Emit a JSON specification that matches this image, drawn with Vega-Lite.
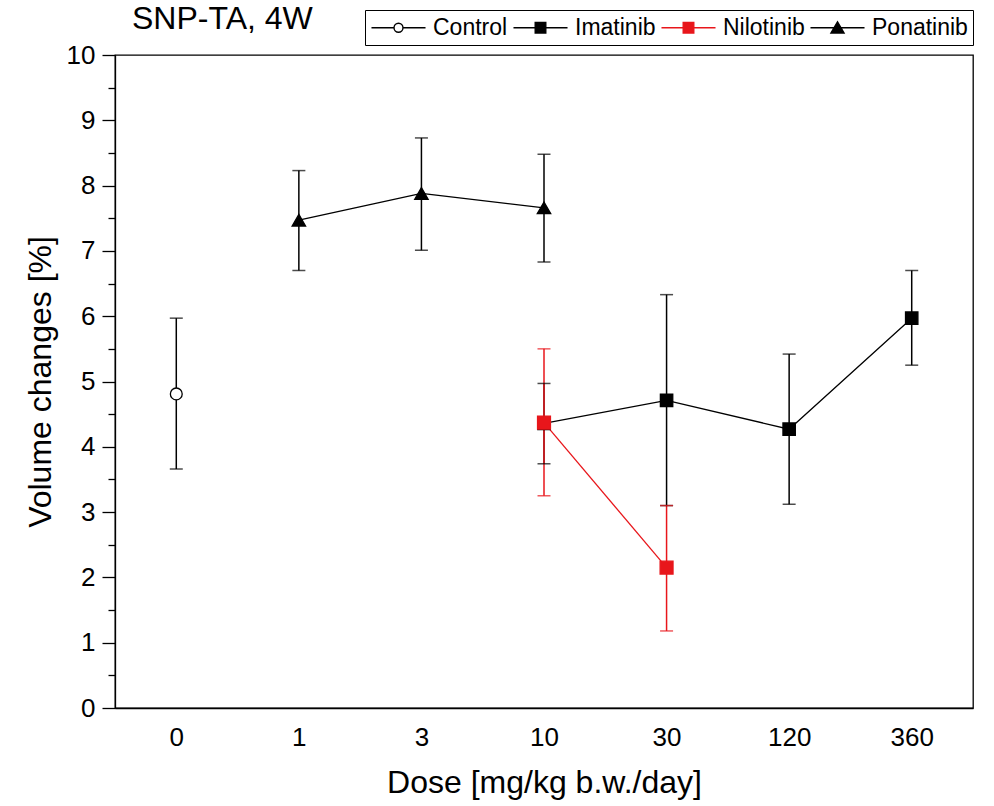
{
  "$schema": "https://vega.github.io/schema/vega-lite/v6.json",
  "width": 858,
  "height": 653,
  "autosize": {"type": "none"},
  "padding": {"left": 115, "top": 55, "right": 21, "bottom": 98},
  "background": "white",
  "config": {
    "font": "Liberation Sans, Arial, sans-serif",
    "view": {"stroke": "#000", "strokeWidth": 1.3},
    "axis": {"domainColor": "#000", "tickColor": "#000", "labelColor": "#000", "titleColor": "#000", "titleFontWeight": "normal", "domainWidth": 1.3, "tickWidth": 1.3, "grid": false},
    "axisX": {"title": "Dose [mg/kg b.w./day]", "labelAngle": 0, "ticks": false, "tickSize": 0, "labelFontSize": 26, "labelPadding": 16, "titleFontSize": 32, "titlePadding": 17},
    "legend": {"symbolOpacity": 1}
  },
  "title": {"text": "SNP-TA, 4W", "anchor": "start", "frame": "group", "dx": 17, "fontSize": 32, "fontWeight": "normal", "offset": -51, "baseline": "alphabetic", "color": "#000"},
  "data": {
    "values": [
      {"series": "Ponatinib", "dose": "1", "d": 1, "value": 7.47, "lo": 6.70, "hi": 8.23},
      {"series": "Ponatinib", "dose": "3", "d": 3, "value": 7.88, "lo": 7.01, "hi": 8.73},
      {"series": "Ponatinib", "dose": "10", "d": 10, "value": 7.66, "lo": 6.83, "hi": 8.48},
      {"series": "Control", "dose": "0", "d": 0, "value": 4.81, "lo": 3.66, "hi": 5.97},
      {"series": "Imatinib", "dose": "10", "d": 10, "value": 4.36, "lo": 3.74, "hi": 4.97},
      {"series": "Imatinib", "dose": "30", "d": 30, "value": 4.71, "lo": 3.10, "hi": 6.33},
      {"series": "Imatinib", "dose": "120", "d": 120, "value": 4.27, "lo": 3.12, "hi": 5.42},
      {"series": "Imatinib", "dose": "360", "d": 360, "value": 5.97, "lo": 5.25, "hi": 6.70},
      {"series": "Nilotinib", "dose": "10", "d": 10, "value": 4.37, "lo": 3.25, "hi": 5.50},
      {"series": "Nilotinib", "dose": "30", "d": 30, "value": 2.15, "lo": 1.18, "hi": 3.10}
    ]
  },
  "layer": [
    {
      "mark": {"type": "rule", "strokeWidth": 1.5},
      "encoding": {
        "x": {"field": "dose", "type": "nominal", "title": "Dose [mg/kg b.w./day]", "scale": {"type": "point", "domain": ["0", "1", "3", "10", "30", "120", "360"], "padding": 0.5}},
        "y": {"field": "lo", "type": "quantitative", "scale": {"domain": [0, 10], "nice": false, "zero": false},
          "axis": {"orient": "left", "title": "Volume changes [%]", "values": [0, 1, 2, 3, 4, 5, 6, 7, 8, 9, 10], "tickSize": 13, "labelFontSize": 26, "labelPadding": 7, "titleFontSize": 32, "titlePadding": 9}},
        "y2": {"field": "hi"},
        "color": {"field": "series", "type": "nominal", "scale": {"domain": ["Control", "Imatinib", "Nilotinib", "Ponatinib"], "range": ["#000000", "#000000", "#e8161b", "#000000"]}, "legend": null}
      }
    },
    {
      "transform": [{"fold": ["lo", "hi"], "as": ["bound", "cap"]}],
      "mark": {"type": "tick", "thickness": 1.5, "size": 13},
      "encoding": {
        "x": {"field": "dose", "type": "nominal", "title": "Dose [mg/kg b.w./day]", "scale": {"type": "point", "domain": ["0", "1", "3", "10", "30", "120", "360"], "padding": 0.5}},
        "y": {"field": "cap", "type": "quantitative", "scale": {"domain": [0, 10], "nice": false, "zero": false}, "axis": null},
        "color": {"field": "series", "type": "nominal", "scale": {"domain": ["Control", "Imatinib", "Nilotinib", "Ponatinib"], "range": ["#000000", "#000000", "#e8161b", "#000000"]}, "legend": null}
      }
    },
    {
      "mark": {"type": "line", "strokeWidth": 1.3},
      "encoding": {
        "x": {"field": "dose", "type": "nominal", "title": "Dose [mg/kg b.w./day]", "scale": {"type": "point", "domain": ["0", "1", "3", "10", "30", "120", "360"], "padding": 0.5}},
        "y": {"field": "value", "type": "quantitative", "scale": {"domain": [0, 10], "nice": false, "zero": false}, "axis": null},
        "order": {"field": "d", "type": "quantitative"},
        "color": {"field": "series", "type": "nominal", "scale": {"domain": ["Control", "Imatinib", "Nilotinib", "Ponatinib"], "range": ["#000000", "#000000", "#d0262b", "#000000"]}, "legend": null}
      }
    },
    {
      "mark": {"type": "point", "strokeWidth": 1.3, "opacity": 1},
      "encoding": {
        "x": {"field": "dose", "type": "nominal", "title": "Dose [mg/kg b.w./day]", "scale": {"type": "point", "domain": ["0", "1", "3", "10", "30", "120", "360"], "padding": 0.5}},
        "y": {"field": "value", "type": "quantitative", "scale": {"domain": [0, 10], "nice": false, "zero": false}, "axis": null},
        "shape": {"field": "series", "type": "nominal", "scale": {"domain": ["Control", "Imatinib", "Nilotinib", "Ponatinib"], "range": ["circle", "square", "square", "triangle-up"]}, "legend": null},
        "size": {"field": "series", "type": "ordinal", "scale": {"domain": ["Control", "Imatinib", "Nilotinib", "Ponatinib"], "range": [140, 180, 170, 240]}, "legend": null},
        "fill": {"field": "series", "type": "nominal", "scale": {"domain": ["Control", "Imatinib", "Nilotinib", "Ponatinib"], "range": ["#ffffff", "#000000", "#e8161b", "#000000"]}, "legend": null},
        "stroke": {"field": "series", "type": "nominal", "scale": {"domain": ["Control", "Imatinib", "Nilotinib", "Ponatinib"], "range": ["#000000", "#000000", "#e8161b", "#000000"]}, "legend": null}
      }
    },
    {
      "mark": {"type": "point", "opacity": 0, "strokeWidth": 1.3},
      "encoding": {
        "x": {"field": "dose", "type": "nominal", "title": "Dose [mg/kg b.w./day]", "scale": {"type": "point", "domain": ["0", "1", "3", "10", "30", "120", "360"], "padding": 0.5}},
        "y": {"field": "value", "type": "quantitative", "scale": {"domain": [0, 10], "nice": false, "zero": false},
          "axis": {"orient": "left", "title": null, "values": [0.5, 1.5, 2.5, 3.5, 4.5, 5.5, 6.5, 7.5, 8.5, 9.5], "labels": false, "domain": false, "tickSize": 7}},
        "shape": {"field": "series", "type": "nominal",
          "scale": {"domain": ["Control", "Imatinib", "Nilotinib", "Ponatinib"],
            "range": ["M-2.35,0H-0.39M0.39,0H2.35M-0.39,0A0.39,0.39 0 1,0 0.39,0A0.39,0.39 0 1,0 -0.39,0Z", "M-2.35,0H2.35M-0.46,-0.46H0.46V0.46H-0.46Z", "M-2.35,0H2.35M-0.46,-0.46H0.46V0.46H-0.46Z", "M-2.35,0H2.35M0,-0.52L0.57,0.46H-0.57Z"]},
          "legend": {"orient": "none", "legendX": 250, "legendY": -45, "direction": "horizontal", "title": null, "labelFontSize": 23, "labelColor": "#000", "symbolSize": 529, "symbolOffset": 16, "labelOffset": 22, "columnPadding": 2, "padding": 5, "strokeColor": "#000", "fillColor": "#fff", "symbolStrokeWidth": 1.4, "symbolOpacity": 1}},
        "fill": {"field": "series", "type": "nominal", "scale": {"domain": ["Control", "Imatinib", "Nilotinib", "Ponatinib"], "range": ["#ffffff", "#000000", "#e8161b", "#000000"]},
          "legend": {"orient": "none", "legendX": 250, "legendY": -45, "direction": "horizontal", "title": null, "labelFontSize": 23, "labelColor": "#000", "symbolSize": 529, "symbolOffset": 16, "labelOffset": 22, "columnPadding": 2, "padding": 5, "strokeColor": "#000", "fillColor": "#fff", "symbolStrokeWidth": 1.4, "symbolOpacity": 1}},
        "stroke": {"field": "series", "type": "nominal", "scale": {"domain": ["Control", "Imatinib", "Nilotinib", "Ponatinib"], "range": ["#000000", "#000000", "#e8161b", "#000000"]},
          "legend": {"orient": "none", "legendX": 250, "legendY": -45, "direction": "horizontal", "title": null, "labelFontSize": 23, "labelColor": "#000", "symbolSize": 529, "symbolOffset": 16, "labelOffset": 22, "columnPadding": 2, "padding": 5, "strokeColor": "#000", "fillColor": "#fff", "symbolStrokeWidth": 1.4, "symbolOpacity": 1}}
      }
    }
  ],
  "resolve": {"scale": {"shape": "independent", "fill": "independent", "stroke": "independent", "size": "independent"}, "axis": {"y": "independent"}}
}
